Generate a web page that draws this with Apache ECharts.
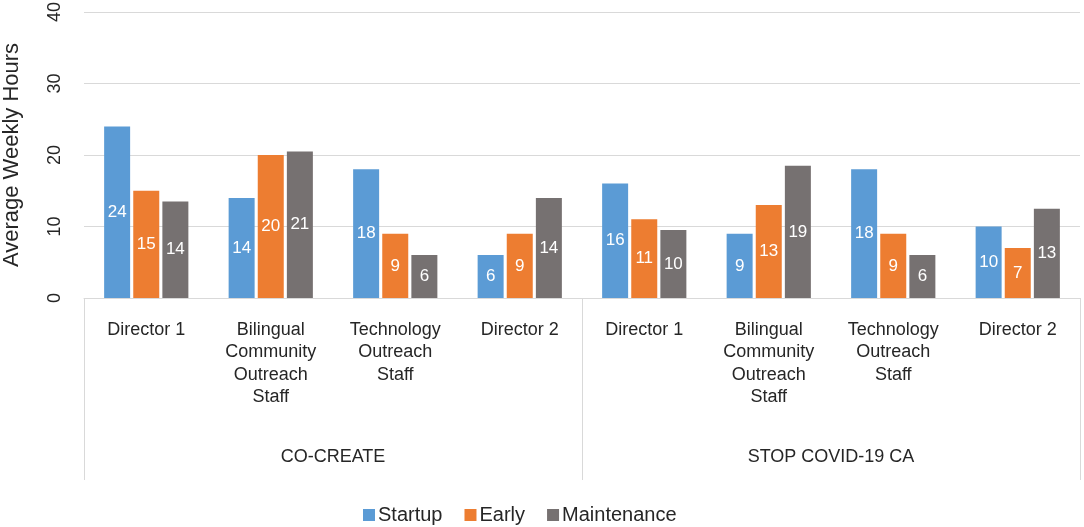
<!DOCTYPE html>
<html>
<head>
<meta charset="utf-8">
<script src="https://cdn.jsdelivr.net/npm/echarts@6/dist/echarts.min.js"></script>
<style>
html,body{margin:0;padding:0;background:#fff;}
#chart{width:1084px;height:527px;}
</style>
</head>
<body>
<div id="chart"></div>
<script>
const roles = ['Director 1', 'Bilingual\nCommunity\nOutreach\nStaff', 'Technology\nOutreach\nStaff', 'Director 2',
               'Director 1', 'Bilingual\nCommunity\nOutreach\nStaff', 'Technology\nOutreach\nStaff', 'Director 2'];
const programs = ['CO-CREATE', 'STOP COVID-19 CA'];
const seriesNames = ['Startup', 'Early', 'Maintenance'];
const startup = [24, 14, 18, 6, 16, 9, 18, 10];
const early = [15, 20, 9, 9, 11, 13, 9, 7];
const maintenance = [13.5, 20.5, 6, 14, 9.5, 18.5, 6, 12.5];
const yTicks = [0, 10, 20, 30, 40];

const FONT = '"Liberation Sans", Arial, sans-serif';
const colors = ['#5B9BD5', '#ED7D31', '#767171'];
const allValues = [startup, early, maintenance];

const chart = echarts.init(document.getElementById('chart'), null, {renderer: 'canvas'});
chart.setOption({
  animation: false,
  color: colors,
  textStyle: {fontFamily: FONT},
  grid: {left: 84, right: 4, top: 12, bottom: 229, containLabel: false, outerBoundsMode: 'none'},
  legend: {
    data: seriesNames,
    top: 500,
    left: 358,
    itemWidth: 12,
    itemHeight: 12,
    itemGap: 22,
    icon: 'rect',
    textStyle: {fontSize: 20, color: '#262626', fontFamily: FONT, padding: [0, 0, 0, -2]}
  },
  xAxis: [
    {
      type: 'category',
      data: roles,
      position: 'bottom',
      axisLine: {show: true, lineStyle: {color: '#d9d9d9', width: 1}},
      axisTick: {show: false},
      splitLine: {show: false},
      axisLabel: {
        interval: 0,
        fontSize: 18,
        lineHeight: 22.3,
        margin: 21,
        color: '#262626',
        fontFamily: FONT,
        align: 'center'
      }
    },
    {
      type: 'category',
      data: programs,
      position: 'bottom',
      offset: 0,
      axisLine: {show: false},
      axisTick: {show: true, length: 182, interval: 0, lineStyle: {color: '#d9d9d9', width: 1}},
      splitLine: {show: false},
      axisLabel: {
        interval: 0,
        fontSize: 18,
        margin: 150,
        color: '#262626',
        fontFamily: FONT
      }
    }
  ],
  yAxis: {
    type: 'value',
    min: yTicks[0],
    max: yTicks[yTicks.length - 1],
    interval: 10,
    name: 'Average Weekly Hours',
    nameLocation: 'middle',
    nameRotate: 90,
    nameGap: 61,
    nameTextStyle: {fontSize: 22, color: '#262626', fontFamily: FONT},
    axisLine: {show: false},
    axisTick: {show: false},
    splitLine: {show: true, lineStyle: {color: '#d9d9d9', width: 1}},
    axisLabel: {rotate: 90, fontSize: 18, margin: 20, color: '#262626', fontFamily: FONT}
  },
  series: seriesNames.map((name, i) => ({
    name: name,
    type: 'bar',
    xAxisIndex: 0,
    data: allValues[i],
    barWidth: 26,
    barGap: '12%',
    itemStyle: {color: colors[i]},
    label: {
      show: true,
      position: 'inside',
      color: '#ffffff',
      fontSize: 17,
      fontFamily: FONT,
      formatter: p => String(Math.round(p.value))
    }
  }))
});
</script>
</body>
</html>
